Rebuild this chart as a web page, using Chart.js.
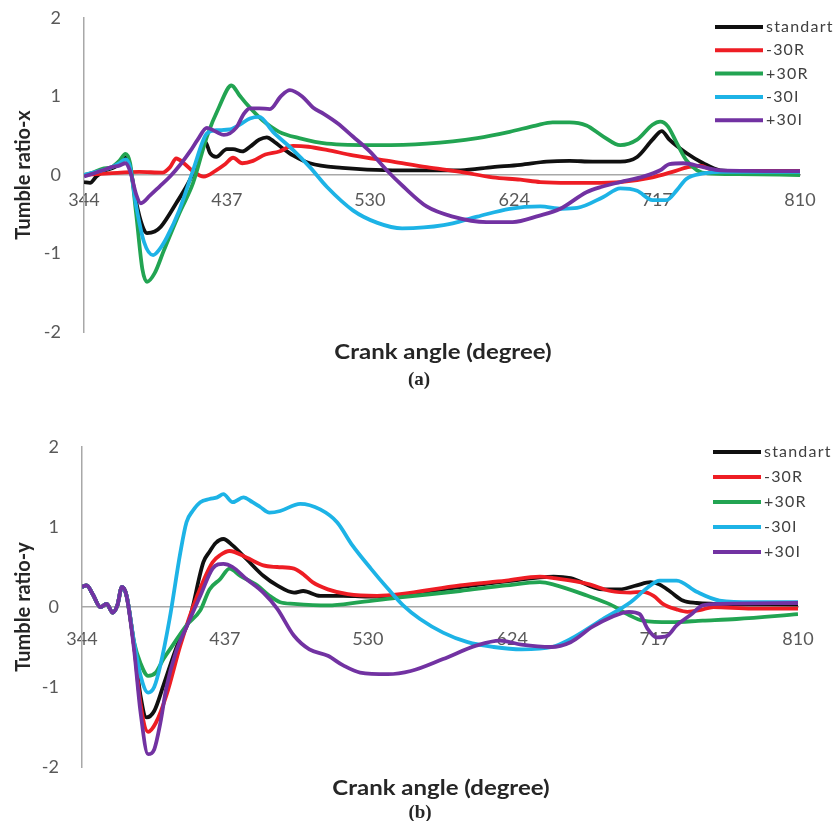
<!DOCTYPE html>
<html>
<head>
<meta charset="utf-8">
<script src="https://cdn.jsdelivr.net/npm/chart.js@4.4.0/dist/chart.umd.min.js"></script>
<style>
  html, body { margin: 0; padding: 0; background: #ffffff; width: 839px; height: 821px; overflow: hidden; }
  .panel { position: absolute; left: 0; width: 839px; }
  #pa { top: 0; height: 400px; }
  #pb { top: 420px; height: 401px; }
  .xt { position: absolute; white-space: nowrap; transform: translate(-50%, -50%) scaleX(1.2);
        font-family: Lato, "Liberation Sans", sans-serif; font-weight: bold; font-size: 20px; color: #262626; }
  .lab { position: absolute; white-space: nowrap; transform: translate(-50%, -50%);
        font-family: "Liberation Serif", serif; font-weight: bold; font-size: 19px; color: #262626; }
</style>
</head>
<body>
<div class="panel" id="pa"><canvas id="ca" width="839" height="400"></canvas></div>
<div class="panel" id="pb"><canvas id="cb" width="839" height="401"></canvas></div>
<div class="xt" style="left:443px; top:351px;">Crank angle (degree)</div>
<div class="lab" style="left:419px; top:379px;">(a)</div>
<div class="xt" style="left:441px; top:787px;">Crank angle (degree)</div>
<div class="lab" style="left:420px; top:812px;">(b)</div>
<script>
// ---------- data ----------
const seriesNames = ['standart', '-30R', '+30R', '-30I', '+30I'];
const seriesColors = ['#101010', '#ee1d24', '#22a452', '#1db3e6', '#7232a2'];
const xTickValues = [344, 437, 530, 624, 717, 810];
const xTickLabels = ['344', '437', '530', '624', '717', '810'];
const yTickValues = [-2, -1, 0, 1, 2];

// (a) Tumble ratio-x : [crank angle, value]
const a_standart = [[344,-0.09],[348,-0.1],[352,-0.02],[358,0.06],[364,0.1],[368,0.16],[371,0.22],[374,0.1],[378,-0.35],[382,-0.65],[385,-0.74],[390,-0.72],[394,-0.66],[404,-0.36],[413,-0.06],[419,0.22],[423,0.42],[426,0.28],[430,0.23],[437,0.33],[441,0.33],[447,0.3],[452,0.36],[458,0.45],[463,0.48],[468,0.42],[474,0.33],[480,0.25],[491,0.15],[512,0.09],[545,0.06],[589,0.06],[610,0.1],[628,0.13],[645,0.17],[660,0.18],[675,0.17],[693,0.17],[704,0.23],[714,0.45],[720,0.56],[725,0.45],[736,0.28],[747,0.15],[758,0.06],[770,0.05],[810,0.05]];
const a_m30R = [[344,0],[360,0.02],[380,0.04],[395,0.03],[400,0.1],[404,0.21],[409,0.15],[416,0.03],[422,-0.02],[430,0.06],[436,0.14],[441,0.22],[447,0.15],[454,0.18],[462,0.26],[471,0.3],[480,0.37],[490,0.36],[502,0.32],[519,0.25],[545,0.17],[567,0.1],[589,0.04],[610,-0.03],[628,-0.06],[641,-0.09],[660,-0.1],[675,-0.1],[693,-0.09],[714,-0.03],[727,0.04],[737,0.1],[745,0.12],[752,0.07],[765,0.05],[810,0.05]];
const a_p30R = [[344,0],[350,0.03],[356,0.08],[362,0.1],[367,0.18],[371,0.27],[374,0.15],[378,-0.5],[382,-1.2],[385,-1.36],[390,-1.25],[396,-0.96],[406,-0.49],[415,-0.1],[424,0.49],[432,0.87],[440,1.14],[445,1.02],[450,0.9],[460,0.7],[471,0.55],[484,0.47],[502,0.4],[535,0.38],[567,0.4],[600,0.47],[621,0.55],[638,0.63],[649,0.67],[660,0.67],[671,0.63],[682,0.49],[693,0.38],[704,0.45],[714,0.64],[719,0.68],[724,0.62],[730,0.4],[736,0.19],[743,0.06],[750,0.02],[770,0.01],[810,0.0]];
const a_m30I = [[344,0],[350,0.03],[356,0.06],[362,0.1],[367,0.15],[371,0.2],[374,0.1],[378,-0.4],[383,-0.85],[389,-1.02],[393,-0.95],[398,-0.79],[406,-0.45],[415,0.06],[424,0.53],[430,0.57],[439,0.58],[446,0.65],[452,0.72],[458,0.74],[467,0.55],[480,0.32],[491,0.1],[502,-0.15],[519,-0.45],[535,-0.61],[551,-0.68],[578,-0.64],[600,-0.53],[621,-0.43],[641,-0.4],[655,-0.43],[665,-0.42],[682,-0.28],[693,-0.17],[704,-0.2],[714,-0.32],[723,-0.32],[730,-0.19],[736,-0.05],[747,0.02],[758,0.04],[810,0.04]];
const a_p30I = [[344,-0.02],[350,0.02],[356,0.06],[362,0.1],[367,0.12],[371,0.15],[374,0.05],[378,-0.25],[381,-0.36],[387,-0.26],[393,-0.15],[400,-0.02],[407,0.14],[413,0.3],[418,0.45],[424,0.6],[430,0.55],[435,0.51],[443,0.6],[448,0.78],[452,0.85],[458,0.85],[465,0.84],[472,1.0],[478,1.08],[486,1.0],[493,0.86],[500,0.78],[509,0.66],[519,0.49],[530,0.3],[541,0.06],[552,-0.15],[567,-0.4],[584,-0.53],[606,-0.6],[623,-0.6],[640,-0.52],[654,-0.43],[671,-0.22],[681,-0.15],[693,-0.09],[708,-0.02],[719,0.06],[725,0.14],[734,0.15],[747,0.1],[758,0.06],[810,0.05]];

// (b) Tumble ratio-y : [crank angle, value]
const b_standart = [[344,0.25],[347,0.27],[351,0.16],[356,0.0],[360,0.04],[364,-0.07],[367,0.02],[370,0.25],[373,0.14],[378,-0.5],[382,-1.1],[386,-1.38],[391,-1.3],[397,-0.98],[406,-0.48],[414,-0.15],[423,0.56],[427,0.69],[431,0.8],[436,0.85],[442,0.77],[451,0.6],[462,0.39],[471,0.27],[482,0.18],[488,0.2],[499,0.14],[514,0.14],[530,0.13],[547,0.14],[570,0.2],[590,0.25],[620,0.32],[642,0.37],[651,0.38],[662,0.36],[683,0.22],[694,0.22],[705,0.27],[714,0.31],[720,0.28],[727,0.19],[735,0.08],[744,0.05],[755,0.04],[810,0.03]];
const b_m30R = [[344,0.25],[347,0.27],[351,0.16],[356,0.0],[360,0.04],[364,-0.07],[367,0.02],[370,0.25],[373,0.14],[378,-0.5],[382,-1.2],[387,-1.56],[392,-1.45],[399,-1.1],[408,-0.48],[419,0.14],[429,0.56],[434,0.65],[440,0.7],[451,0.62],[462,0.52],[471,0.5],[482,0.48],[488,0.41],[494,0.31],[504,0.22],[517,0.16],[536,0.14],[551,0.16],[590,0.27],[620,0.33],[642,0.38],[651,0.36],[673,0.29],[688,0.2],[701,0.18],[709,0.19],[716,0.14],[722,0.04],[731,-0.03],[738,-0.06],[746,-0.04],[755,0.0],[780,-0.02],[810,-0.02]];
const b_p30R = [[344,0.25],[347,0.27],[351,0.16],[356,0.0],[360,0.04],[364,-0.07],[367,0.02],[370,0.25],[373,0.14],[378,-0.45],[382,-0.7],[387,-0.86],[392,-0.82],[397,-0.65],[403,-0.48],[412,-0.23],[421,-0.04],[427,0.22],[434,0.35],[440,0.48],[447,0.39],[458,0.27],[466,0.14],[473,0.06],[482,0.04],[504,0.02],[525,0.06],[551,0.12],[590,0.2],[620,0.27],[642,0.31],[651,0.28],[673,0.14],[688,0.03],[700,-0.1],[709,-0.17],[727,-0.19],[748,-0.17],[770,-0.15],[810,-0.09]];
const b_m30I = [[344,0.25],[347,0.27],[351,0.16],[356,0.0],[360,0.04],[364,-0.07],[367,0.02],[370,0.25],[373,0.14],[378,-0.45],[382,-0.85],[387,-1.07],[391,-1.0],[395,-0.73],[401,-0.15],[408,0.68],[412,1.06],[416,1.2],[421,1.31],[427,1.35],[432,1.37],[436,1.41],[442,1.31],[449,1.37],[455,1.31],[460,1.25],[466,1.18],[473,1.2],[486,1.29],[499,1.22],[510,1.06],[520,0.77],[532,0.48],[543,0.23],[553,0.02],[564,-0.15],[579,-0.32],[595,-0.44],[612,-0.5],[630,-0.53],[650,-0.5],[662,-0.4],[683,-0.15],[701,0.06],[712,0.24],[720,0.33],[731,0.33],[744,0.19],[759,0.08],[781,0.06],[810,0.06]];
const b_p30I = [[344,0.25],[347,0.27],[351,0.16],[356,0.0],[360,0.04],[364,-0.07],[367,0.02],[370,0.25],[373,0.14],[378,-0.55],[382,-1.3],[387,-1.84],[391,-1.78],[395,-1.45],[399,-1.0],[405,-0.57],[412,-0.25],[421,0.14],[429,0.48],[436,0.54],[442,0.5],[451,0.35],[462,0.18],[471,-0.02],[482,-0.36],[492,-0.53],[504,-0.61],[514,-0.73],[525,-0.82],[543,-0.84],[558,-0.8],[579,-0.65],[601,-0.48],[616,-0.42],[630,-0.47],[649,-0.5],[662,-0.44],[676,-0.25],[688,-0.13],[700,-0.06],[707,-0.09],[712,-0.27],[718,-0.38],[725,-0.36],[731,-0.23],[740,-0.1],[748,0.02],[759,0.04],[810,0.05]];

// ---------- chart building ----------
const FONT = 'Lato, "Liberation Sans", sans-serif';

const sideLegend = {
  id: 'sideLegend',
  afterDraw(chart, args, opts) {
    const ctx = chart.ctx;
    ctx.save();
    chart.data.datasets.forEach((ds, i) => {
      const y = opts.top + i * opts.gap;
      ctx.strokeStyle = ds.borderColor;
      ctx.lineWidth = 4;
      ctx.lineCap = 'butt';
      ctx.beginPath();
      ctx.moveTo(opts.x, y);
      ctx.lineTo(opts.x + opts.len, y);
      ctx.stroke();
      ctx.fillStyle = '#404040';
      ctx.font = '16px ' + FONT;
      if ('letterSpacing' in ctx) ctx.letterSpacing = '1.2px';
      ctx.textBaseline = 'middle';
      ctx.textAlign = 'left';
      ctx.fillText(ds.label, opts.x + opts.len + 3, y);
    });
    ctx.restore();
  }
};

function toPoints(arr) { return arr.map(p => ({ x: p[0], y: p[1] })); }

function makeChart(id, series, yTitle, geom) {
  const datasets = series.map((s, i) => ({
    label: seriesNames[i],
    data: toPoints(s),
    borderColor: seriesColors[i],
    backgroundColor: seriesColors[i],
    borderWidth: 3.8,
    pointRadius: 0,
    tension: 0.4,
    cubicInterpolationMode: 'monotone',
    fill: false,
    order: series.length - i
  }));
  return new Chart(document.getElementById(id), {
    type: 'line',
    data: { datasets },
    plugins: [sideLegend],
    options: {
      responsive: false,
      animation: false,
      layout: { padding: { top: geom.top, right: geom.right, left: 0, bottom: geom.bottom } },
      plugins: {
        legend: { display: false },
        tooltip: { enabled: false },
        sideLegend: geom.legend
      },
      scales: {
        x: {
          type: 'linear',
          min: 344, max: 810,
          position: { y: 0 },
          grid: { display: false, drawTicks: false },
          border: { display: true, color: '#a8a8a8', width: 1.5 },
          afterBuildTicks: s => { s.ticks = xTickValues.map(v => ({ value: v })); },
          ticks: {
            autoSkip: false, maxRotation: 0,
            padding: geom.xPad,
            color: '#595959',
            font: { family: FONT, size: 18 },
            callback: (v, i) => xTickLabels[i]
          },
          afterFit: s => { s.paddingLeft = 0; s.paddingRight = 0; s.paddingTop = 0; s.paddingBottom = 0; }
        },
        y: {
          type: 'linear',
          min: -2, max: 2,
          position: 'left',
          grid: { display: false, drawTicks: false },
          border: { display: true, color: '#a8a8a8', width: 1.5 },
          afterBuildTicks: s => { s.ticks = yTickValues.map(v => ({ value: v })); },
          ticks: {
            padding: 23,
            color: '#595959',
            font: { family: FONT, size: 18 }
          },
          title: {
            display: true, text: yTitle, color: '#262626',
            font: { family: FONT, size: 20, weight: 'bold' },
            padding: { top: 12, bottom: 0 }
          },
          afterFit: s => { s.width = geom.yW; s.paddingTop = 0; s.paddingBottom = 0; s.paddingLeft = 0; s.paddingRight = 0; }
        }
      }
    }
  });
}

makeChart('ca', [a_standart, a_m30R, a_p30R, a_m30I, a_p30I], 'Tumble ratio-x',
  { top: 18, right: 39, bottom: 68, yW: 84, xPad: 14, legend: { x: 715, len: 48, top: 27, gap: 23.3 } });
makeChart('cb', [b_standart, b_m30R, b_p30R, b_m30I, b_p30I], 'Tumble ratio-y',
  { top: 27, right: 41, bottom: 54, yW: 82, xPad: 21, legend: { x: 713, len: 48, top: 32, gap: 25 } });
</script>
</body>
</html>
